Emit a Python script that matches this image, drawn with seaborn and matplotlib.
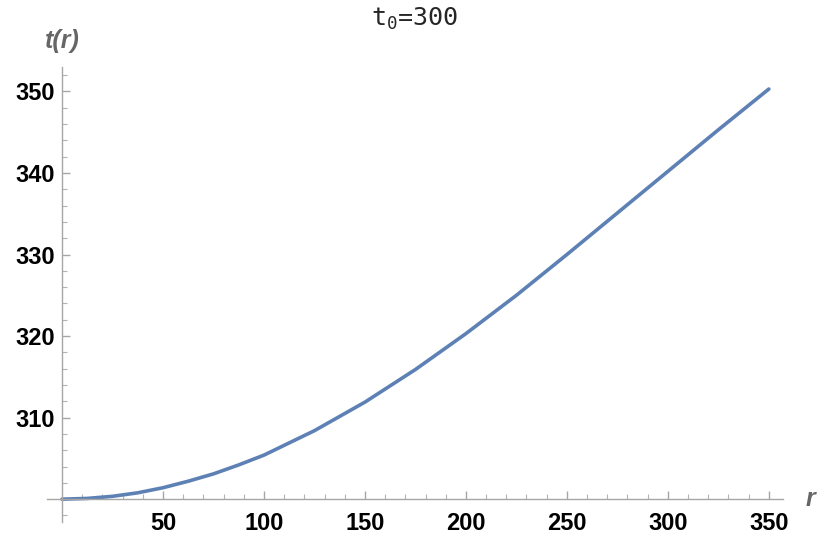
import numpy as np
import pandas as pd
import matplotlib.pyplot as plt
import seaborn as sns

# values
r_vals = [0, 12.5, 25, 37.5, 50, 62.5, 75, 87.5, 100, 125, 150, 175, 200, 225, 250, 275, 300, 325, 350]
t_vals = [300.0, 300.09, 300.35, 300.78, 301.4, 302.2, 303.1, 304.2, 305.4, 308.4, 311.9, 315.9,
          320.3, 325.0, 330.0, 335.1, 340.2, 345.3, 350.3]

x_ticks = [50, 100, 150, 200, 250, 300, 350]
y_ticks = [310, 320, 330, 340, 350]

df = pd.DataFrame({"r": r_vals, "t": t_vals})

sns.set_style("white")
plt.rcParams['font.family'] = ['Liberation Sans', 'DejaVu Sans']
plt.rcParams['mathtext.fontset'] = 'custom'
plt.rcParams['mathtext.rm'] = 'DejaVu Sans Mono'
plt.rcParams['mathtext.it'] = 'DejaVu Sans Mono'

fig = plt.figure(figsize=(8.3, 5.38), dpi=100)
ax = fig.add_axes([47/830, 1 - 522/538, (783 - 47)/830, (522 - 67)/538])

sns.lineplot(data=df, x="r", y="t", ax=ax, color="#5E81B5", linewidth=2.6)

ax.set_xlim(-7.4, 357)
ax.set_ylim(297.2, 353)

# axes cross at the origin (0, 300)
ax.spines['left'].set_position(('data', 0))
ax.spines['bottom'].set_position(('data', 300))
ax.spines['top'].set_visible(False)
ax.spines['right'].set_visible(False)
for s in ['left', 'bottom']:
    ax.spines[s].set_color("#a6a6a6")
    ax.spines[s].set_linewidth(1.0)

ax.set_xticks(x_ticks)
ax.set_yticks(y_ticks)
ax.set_xticks(np.arange(10, 351, 10), minor=True)
ax.set_yticks(np.arange(298, 353, 2), minor=True)
ax.tick_params(which='both', bottom=True, left=True, top=False, right=False)
ax.tick_params(which='major', direction='in', length=6, width=1, color="#a6a6a6",
               labelsize=17, labelcolor='black', pad=5)
ax.tick_params(which='minor', direction='in', length=3.5, width=0.8, color="#b3b3b3")
ax.tick_params(axis='x', which='major', pad=9)
for lab in ax.get_xticklabels() + ax.get_yticklabels():
    lab.set_fontweight('bold')

ax.set_xlabel("")
ax.set_ylabel("")
ax.text(0, 1.03, "t(r)", transform=ax.get_xaxis_transform(), ha='center', va='bottom',
        fontsize=18, fontweight='bold', style='italic', color="#666666")
ax.annotate("r", xy=(1.0, 300), xycoords=('axes fraction', 'data'), xytext=(16, 0),
            textcoords='offset points', ha='left', va='center',
            fontsize=18, fontweight='bold', style='italic', color="#666666")

fig.suptitle(r"t$_\mathrm{0}$=300", y=0.99, fontsize=18, family=['DejaVu Sans Mono', 'DejaVu Sans'])

plt.savefig("out.png", dpi=100)
